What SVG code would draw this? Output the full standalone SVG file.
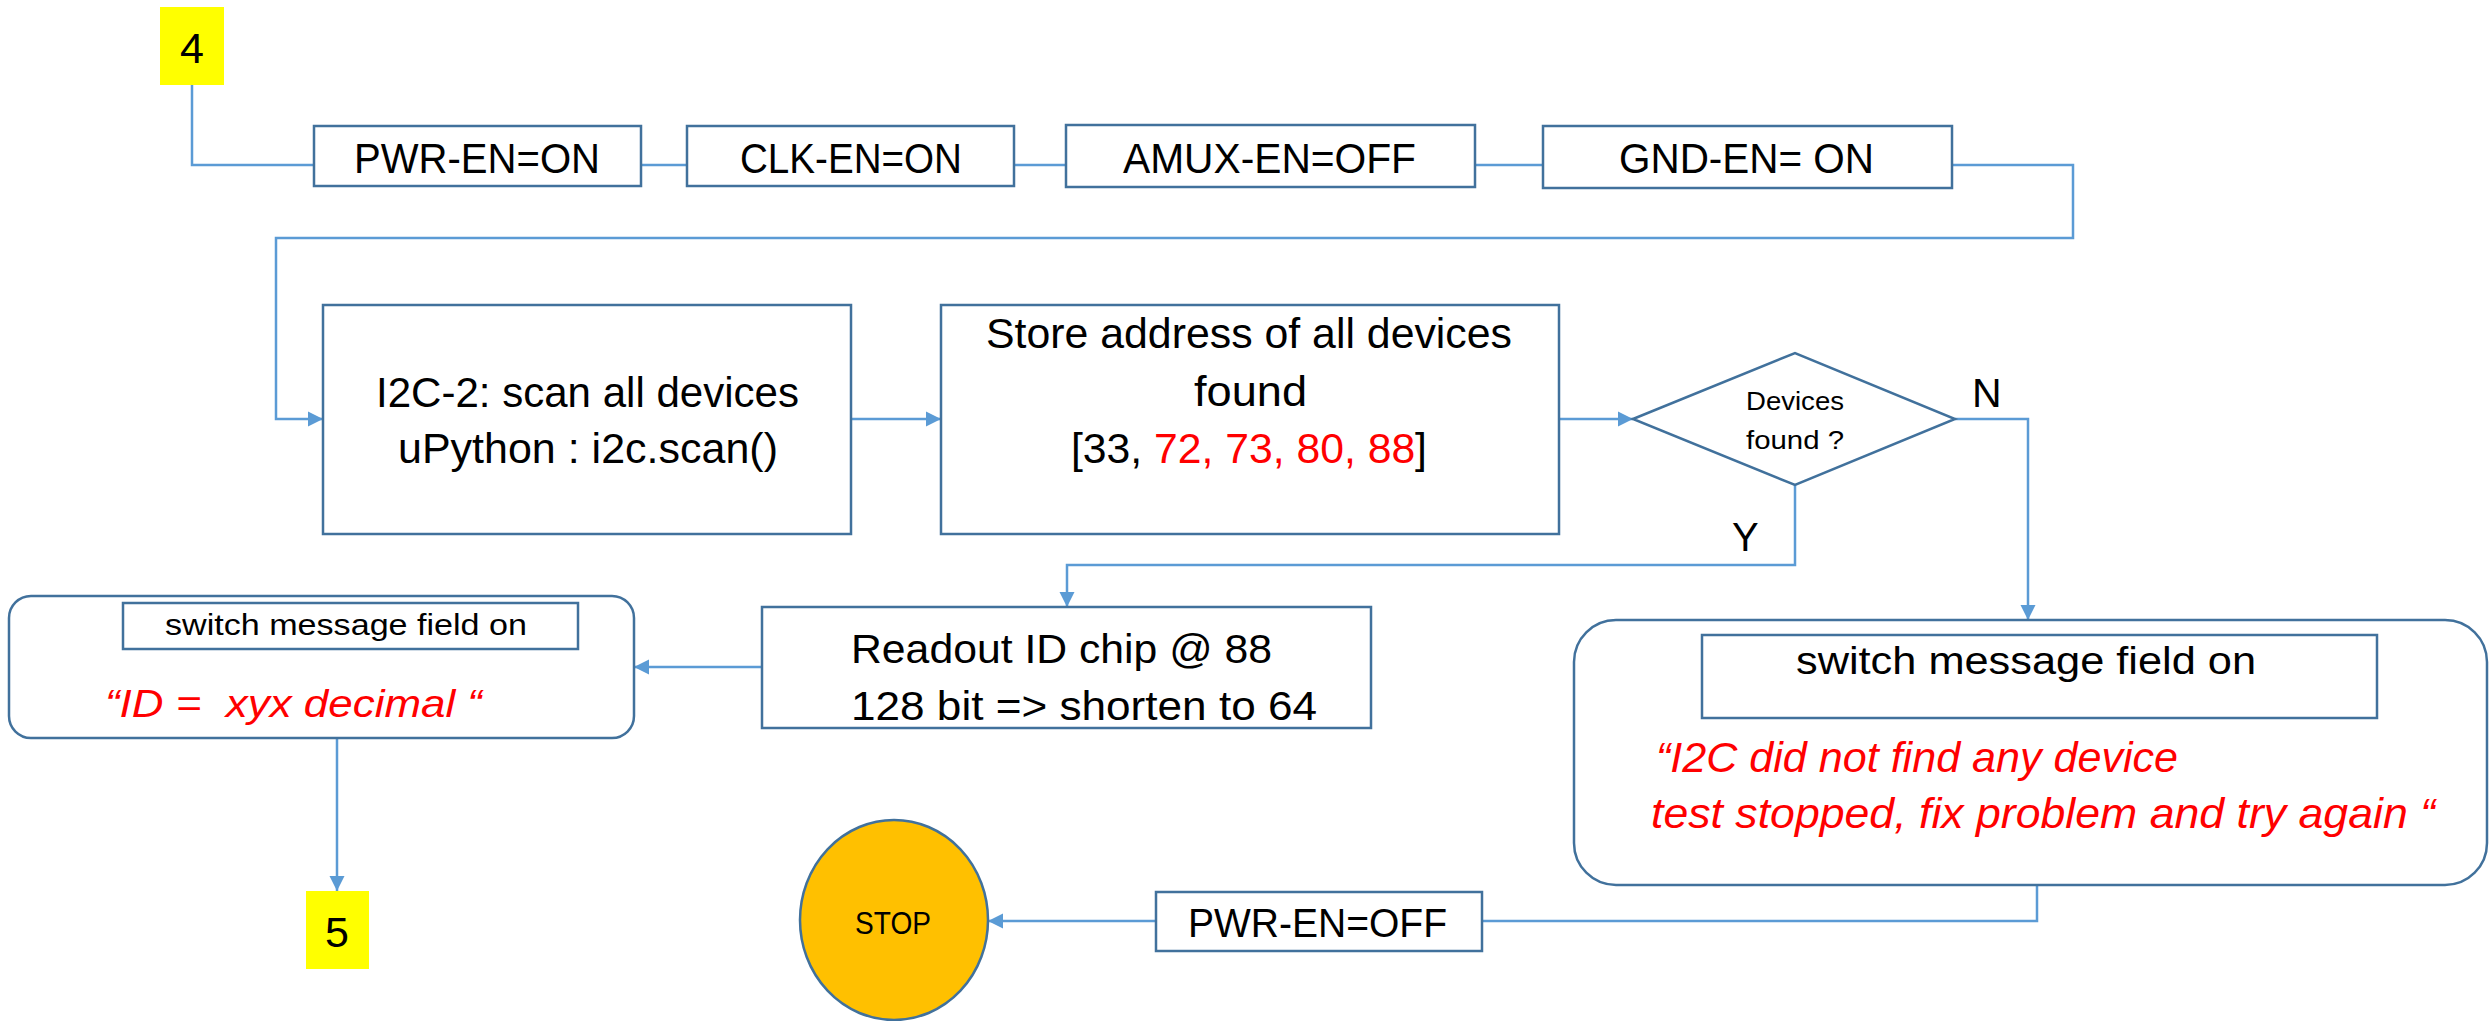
<svg xmlns="http://www.w3.org/2000/svg" width="2489" height="1021" viewBox="0 0 2489 1021">
<defs>
<style>
.box{fill:#ffffff;stroke:#41719C;stroke-width:2.5}
.tag{fill:#FFFF00;stroke:none}
.conn{fill:none;stroke:#5B9BD5;stroke-width:2.5}
.t{font-family:"Liberation Sans",Arial,sans-serif;fill:#000000}
.red{font-family:"Liberation Sans",Arial,sans-serif;fill:#FF0000;font-style:italic;white-space:pre}
.r{fill:#FF0000}
</style>
<marker id="arr" markerUnits="userSpaceOnUse" markerWidth="16" markerHeight="16" viewBox="0 0 16 16" refX="15" refY="8" orient="auto">
<path d="M0,0.5 L15,8 L0,15.5 Z" fill="#5B9BD5"/>
</marker>
</defs>
<rect width="2489" height="1021" fill="#ffffff"/>

<g id="connectors">
<path class="conn" d="M192 85 V165 H314" stroke-width="2"/>
<path class="conn" d="M641 165 H687"/>
<path class="conn" d="M1014 165 H1066"/>
<path class="conn" d="M1475 165 H1543"/>
<path class="conn" d="M1952 165 H2073 V238 H276 V419 H323" marker-end="url(#arr)"/>
<path class="conn" d="M851 419 H941" marker-end="url(#arr)"/>
<path class="conn" d="M1559 419 H1633" marker-end="url(#arr)"/>
<path class="conn" d="M1955 419 H2028 V620" marker-end="url(#arr)"/>
<path class="conn" d="M1795 485 V565 H1067 V607" marker-end="url(#arr)"/>
<path class="conn" d="M762 667 H634" marker-end="url(#arr)"/>
<path class="conn" d="M337 738 V891" marker-end="url(#arr)"/>
<path class="conn" d="M2037 885 V921 H1482"/>
<path class="conn" d="M1156 921 H988" marker-end="url(#arr)"/>
</g>

<g id="label-N"><text class="t" x="1972" y="407" font-size="41">N</text></g>
<g id="label-Y"><text class="t" x="1732" y="551" font-size="40">Y</text></g>

<g id="node-4">
<rect class="tag" x="160" y="7" width="64" height="78"/>
<text class="t" x="192" y="63" font-size="43" text-anchor="middle">4</text>
</g>

<g id="node-pwr-on">
<rect class="box" x="314" y="126" width="327" height="60"/>
<text class="t" x="354" y="173" font-size="42" textLength="246" lengthAdjust="spacingAndGlyphs">PWR-EN=ON</text>
</g>

<g id="node-clk-on">
<rect class="box" x="687" y="126" width="327" height="60"/>
<text class="t" x="740" y="173" font-size="42" textLength="222" lengthAdjust="spacingAndGlyphs">CLK-EN=ON</text>
</g>

<g id="node-amux-off">
<rect class="box" x="1066" y="125" width="409" height="62"/>
<text class="t" x="1123" y="173" font-size="42" textLength="293" lengthAdjust="spacingAndGlyphs">AMUX-EN=OFF</text>
</g>

<g id="node-gnd-on">
<rect class="box" x="1543" y="126" width="409" height="62"/>
<text class="t" x="1619" y="173" font-size="42" textLength="255" lengthAdjust="spacingAndGlyphs">GND-EN= ON</text>
</g>

<g id="node-scan">
<rect class="box" x="323" y="305" width="528" height="229"/>
<text class="t" x="376" y="407" font-size="42" textLength="423" lengthAdjust="spacingAndGlyphs">I2C-2: scan all devices</text>
<text class="t" x="398" y="463" font-size="42" textLength="380" lengthAdjust="spacingAndGlyphs">uPython : i2c.scan()</text>
</g>

<g id="node-store">
<rect class="box" x="941" y="305" width="618" height="229"/>
<text class="t" x="986" y="348" font-size="42" textLength="526" lengthAdjust="spacingAndGlyphs">Store address of all devices</text>
<text class="t" x="1194" y="406" font-size="42" textLength="113" lengthAdjust="spacingAndGlyphs">found</text>
<text class="t" x="1071" y="463" font-size="42" textLength="356" lengthAdjust="spacingAndGlyphs">[33, <tspan class="r">72, 73, 80, 88</tspan>]</text>
</g>

<g id="node-decision">
<polygon class="box" points="1633,419 1795,353 1955,419 1795,485"/>
<text class="t" x="1746" y="410" font-size="25" textLength="98" lengthAdjust="spacingAndGlyphs">Devices</text>
<text class="t" x="1746" y="449" font-size="25" textLength="98" lengthAdjust="spacingAndGlyphs">found ?</text>
</g>

<g id="node-readout">
<rect class="box" x="762" y="607" width="609" height="121"/>
<text class="t" x="851" y="663" font-size="41" textLength="421" lengthAdjust="spacingAndGlyphs">Readout ID chip @ 88</text>
<text class="t" x="851" y="720" font-size="41" textLength="466" lengthAdjust="spacingAndGlyphs">128 bit =&gt; shorten to 64</text>
</g>

<g id="node-msg-id">
<rect class="box" x="9" y="596" width="625" height="142" rx="22" ry="22"/>
<rect class="box" x="123" y="603" width="455" height="46"/>
<text class="t" x="165" y="635" font-size="30" textLength="362" lengthAdjust="spacingAndGlyphs">switch message field on</text>
<text class="red" x="105" y="717" font-size="39" textLength="377" lengthAdjust="spacingAndGlyphs" xml:space="preserve">“ID =  xyx decimal “</text>
</g>

<g id="node-5">
<rect class="tag" x="306" y="891" width="63" height="78"/>
<text class="t" x="337" y="947" font-size="43" text-anchor="middle">5</text>
</g>

<g id="node-msg-error">
<rect class="box" x="1574" y="620" width="913" height="265" rx="42" ry="42"/>
<rect class="box" x="1702" y="635" width="675" height="83"/>
<text class="t" x="1796" y="674" font-size="38" textLength="460" lengthAdjust="spacingAndGlyphs">switch message field on</text>
<text class="red" x="1656" y="772" font-size="42" textLength="522" lengthAdjust="spacingAndGlyphs">“I2C did not find any device</text>
<text class="red" x="1651" y="828" font-size="42" textLength="784" lengthAdjust="spacingAndGlyphs">test stopped, fix problem and try again “</text>
</g>

<g id="node-pwr-off">
<rect class="box" x="1156" y="892" width="326" height="59"/>
<text class="t" x="1188" y="937" font-size="40" textLength="259" lengthAdjust="spacingAndGlyphs">PWR-EN=OFF</text>
</g>

<g id="node-stop">
<ellipse cx="894" cy="920" rx="94" ry="100" fill="#FFC000" stroke="#41719C" stroke-width="2.5"/>
<text class="t" x="855" y="934" font-size="32" textLength="76" lengthAdjust="spacingAndGlyphs">STOP</text>
</g>
</svg>
